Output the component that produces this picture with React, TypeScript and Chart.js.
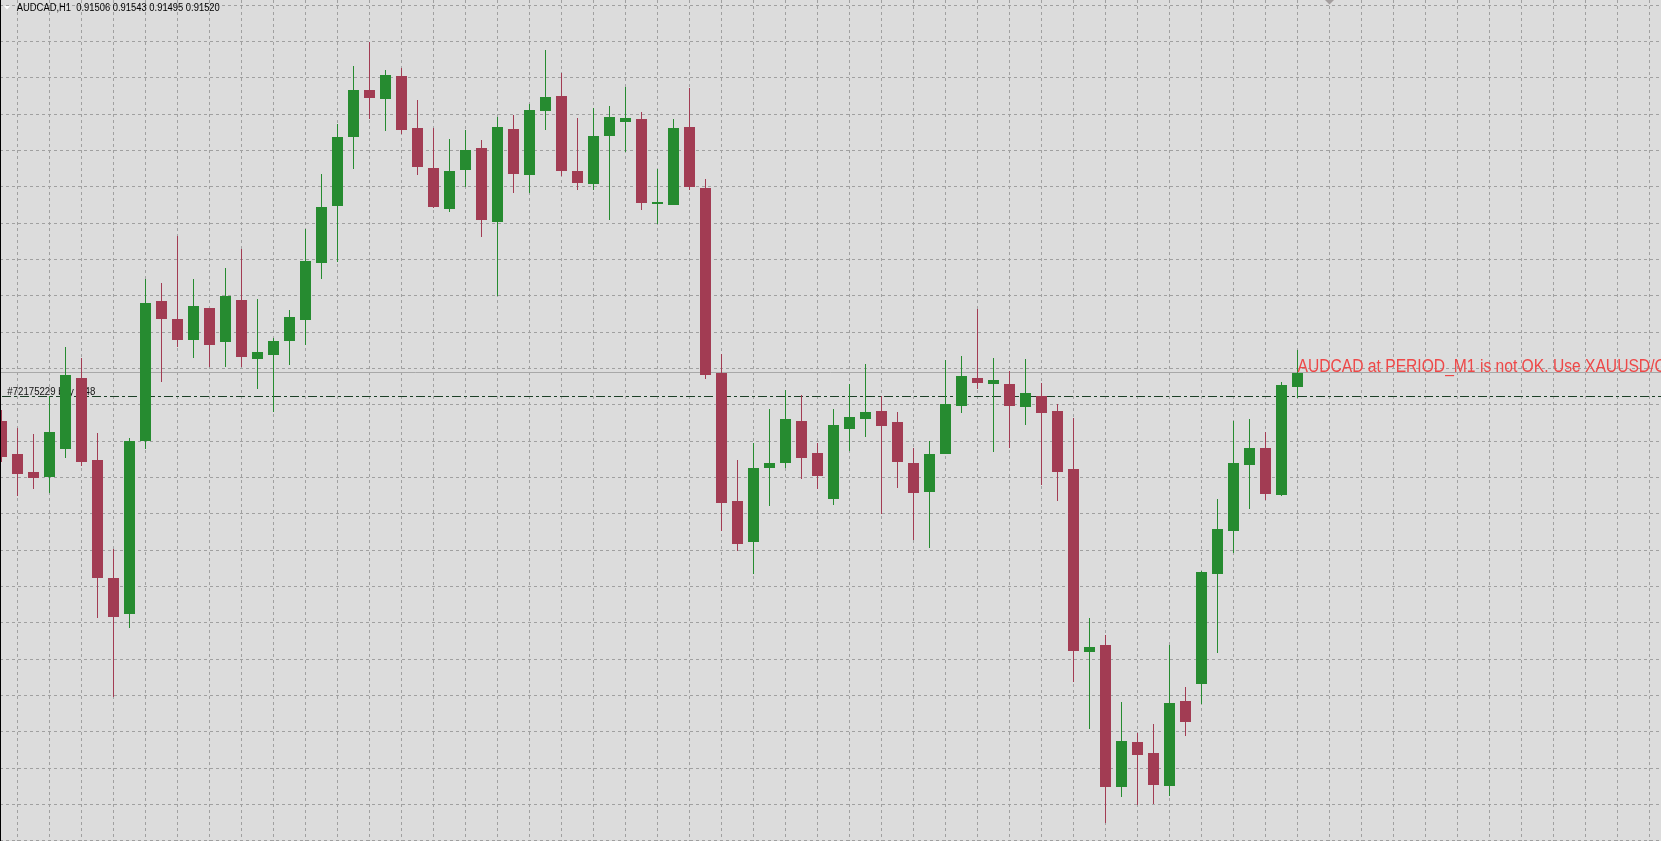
import React, { useEffect, useRef } from "react";
import { Chart, registerables } from "chart.js";

Chart.register(...registerables);

// ---- data (AUDCAD, H1) ----
const symbolLabel = "AUDCAD,H1";
const opens = [
  0.91472, 0.91439, 0.91421, 0.91416, 0.91444, 0.91515, 0.91433, 0.91315, 0.91279, 0.91452,
  0.91592, 0.91574, 0.91553, 0.91585, 0.91551, 0.91593, 0.91534, 0.91538, 0.91552, 0.91573,
  0.9163, 0.91687, 0.91756, 0.91803, 0.91794, 0.91817, 0.91765, 0.91725, 0.91684, 0.91723,
  0.91745, 0.91671, 0.91764, 0.91718, 0.91782, 0.91797, 0.91722, 0.91709, 0.91757, 0.91771,
  0.91774, 0.91689, 0.91688, 0.91766, 0.91705, 0.9152, 0.91392, 0.91351, 0.91425, 0.9143,
  0.91472, 0.9144, 0.91394, 0.91464, 0.91474, 0.91482, 0.91471, 0.9143, 0.91401, 0.91439,
  0.91487, 0.91515, 0.91509, 0.91509, 0.91486, 0.91497, 0.91482, 0.91424, 0.91241, 0.91248,
  0.91106, 0.91151, 0.9114, 0.91107, 0.91192, 0.91209, 0.91319, 0.91362, 0.91428, 0.91445,
  0.91398, 0.91506,
];
const highs = [
  0.91483, 0.91465, 0.91459, 0.91497, 0.91546, 0.91535, 0.9146, 0.91344, 0.91455, 0.91614,
  0.9161, 0.91657, 0.91614, 0.91585, 0.91625, 0.91644, 0.91594, 0.91555, 0.91583, 0.91664,
  0.91719, 0.91769, 0.91827, 0.91851, 0.91823, 0.91825, 0.91793, 0.91765, 0.91754, 0.91763,
  0.91753, 0.91776, 0.91778, 0.91789, 0.91843, 0.9182, 0.91775, 0.91785, 0.91787, 0.91806,
  0.91781, 0.91724, 0.91774, 0.91805, 0.91714, 0.91539, 0.91433, 0.9145, 0.91484, 0.91503,
  0.91498, 0.9145, 0.91484, 0.91509, 0.91529, 0.91497, 0.91481, 0.91445, 0.91452, 0.91533,
  0.91537, 0.91584, 0.91535, 0.91522, 0.91534, 0.9151, 0.91489, 0.91475, 0.91275, 0.91258,
  0.91191, 0.9116, 0.91169, 0.91248, 0.91206, 0.91322, 0.91394, 0.91472, 0.91474, 0.91461,
  0.91511, 0.91543,
];
const lows = [
  0.91431, 0.91397, 0.91404, 0.914, 0.91435, 0.91427, 0.91275, 0.91196, 0.91265, 0.91444,
  0.91511, 0.91546, 0.91535, 0.91526, 0.91526, 0.91526, 0.91504, 0.91481, 0.91528, 0.91548,
  0.91614, 0.91631, 0.91724, 0.91774, 0.91762, 0.91759, 0.91718, 0.91685, 0.91681, 0.91706,
  0.91656, 0.91597, 0.917, 0.917, 0.91763, 0.91717, 0.91703, 0.91703, 0.91673, 0.91741,
  0.91683, 0.91669, 0.91688, 0.91703, 0.91514, 0.91362, 0.91342, 0.91319, 0.91387, 0.91425,
  0.91414, 0.91404, 0.91388, 0.91442, 0.91456, 0.91379, 0.91405, 0.91353, 0.91345, 0.91439,
  0.9148, 0.91504, 0.91441, 0.91445, 0.91468, 0.91408, 0.91392, 0.91211, 0.91164, 0.9107,
  0.91096, 0.91088, 0.91089, 0.91097, 0.91157, 0.91189, 0.9124, 0.9134, 0.91384, 0.91393,
  0.91397, 0.91495,
];
const closes = [
  0.91436, 0.91419, 0.91415, 0.91461, 0.91518, 0.91431, 0.91315, 0.91276, 0.91452, 0.9159,
  0.91574, 0.91553, 0.91587, 0.91548, 0.91597, 0.91536, 0.91541, 0.91552, 0.91576, 0.91632,
  0.91686, 0.91756, 0.91803, 0.91795, 0.91818, 0.91763, 0.91726, 0.91686, 0.91722, 0.91743,
  0.91673, 0.91766, 0.91719, 0.91783, 0.91796, 0.91722, 0.9171, 0.91757, 0.91776, 0.91775,
  0.9169, 0.91691, 0.91765, 0.91706, 0.91518, 0.9139, 0.91349, 0.91425, 0.9143, 0.91474,
  0.91435, 0.91417, 0.91468, 0.91476, 0.91481, 0.91467, 0.91431, 0.914, 0.91439, 0.91489,
  0.91517, 0.9151, 0.91513, 0.91487, 0.915, 0.9148, 0.91421, 0.91242, 0.91246, 0.91106,
  0.91152, 0.91138, 0.91108, 0.9119, 0.91171, 0.91321, 0.91364, 0.9143, 0.91445, 0.91399,
  0.91508, 0.9152,
];
const bidPrice = 0.9152;
const orderPrice = 0.91497;
const orderLabel = "#72175229 buy 0.48";
const warningText = "AUDCAD at PERIOD_M1 is not OK. Use XAUUSD/GOLD at PERIOD_M1";
const warningPrefix = "AUDCAD at PERIOD_M1 is not OK. Use XAUUSD/";

// ---- view / style ----
const W = 1661;
const H = 841;
const Y_MAX = 0.91893;
const Y_MIN = 0.91052;
const BAR_PX = 16;
const X_MIN = -1.5 / BAR_PX;
const X_MAX = X_MIN + W / BAR_PX;
const BULL = "#268b30";
const BEAR = "#a23c53";
const BG = "#dcdcdc";
const GRID = "#a0a0a0";

function fitText(
  ctx: CanvasRenderingContext2D,
  text: string,
  ref: string,
  targetW: number,
  x: number,
  y: number,
  font: string,
  color: string
) {
  ctx.save();
  ctx.font = font;
  ctx.fillStyle = color;
  ctx.textBaseline = "alphabetic";
  ctx.textAlign = "left";
  const m = ctx.measureText(ref).width || 1;
  const sx = targetW / m;
  ctx.translate(x, y);
  ctx.scale(sx, 1);
  ctx.fillText(text, 0, 0);
  ctx.restore();
}

const bgPlugin = {
  id: "bgfill",
  beforeDraw(chart: any) {
    const ctx = chart.ctx;
    ctx.save();
    ctx.fillStyle = BG;
    ctx.fillRect(0, 0, chart.width, chart.height);
    ctx.restore();
  },
};

const overlayPlugin = {
  id: "overlay",
  beforeDatasetsDraw(chart: any) {
    const ctx = chart.ctx;
    const ys = chart.scales.y;
    const bidY = Math.floor(ys.getPixelForValue(bidPrice)) + 0.5;
    const ordY = Math.floor(ys.getPixelForValue(orderPrice)) + 0.5;
    ctx.save();
    ctx.lineWidth = 1;
    ctx.strokeStyle = "#a8a8a8";
    ctx.beginPath();
    ctx.moveTo(0, bidY);
    ctx.lineTo(chart.width, bidY);
    ctx.stroke();
    ctx.strokeStyle = "#1c3f26";
    ctx.setLineDash([9, 3, 3, 3]);
    ctx.beginPath();
    ctx.moveTo(2, ordY);
    ctx.lineTo(chart.width, ordY);
    ctx.stroke();
    ctx.restore();
    fitText(ctx, orderLabel, orderLabel, 88, 7.3, ordY - 2, "11px 'Liberation Sans', Arial, sans-serif", "#111111");
  },
  afterDatasetsDraw(chart: any) {
    const ctx = chart.ctx;
    const ys = chart.scales.y;
    const xs = chart.scales.x;
    const last = opens.length - 1;
    const header =
      symbolLabel +
      "  " +
      [opens[last], highs[last], lows[last], closes[last]].map((v) => v.toFixed(5)).join(" ");
    fitText(ctx, header, header, 203, 16.8, 10.8, "10px 'Liberation Sans', Arial, sans-serif", "#000000");
    const bidY = ys.getPixelForValue(bidPrice);
    fitText(
      ctx,
      warningText,
      warningPrefix,
      357,
      xs.getPixelForValue(last),
      bidY - 1.3,
      "17.5px 'Liberation Sans', Arial, sans-serif",
      "#ee4848"
    );
    ctx.save();
    // white menu triangle (top-left)
    ctx.fillStyle = "#ffffff";
    ctx.beginPath();
    ctx.moveTo(4, 6);
    ctx.lineTo(10, 6);
    ctx.lineTo(7, 9.5);
    ctx.closePath();
    ctx.fill();
    // chart shift marker (top)
    ctx.fillStyle = "#a39e9e";
    ctx.beginPath();
    ctx.moveTo(1325, 0);
    ctx.lineTo(1334, 0);
    ctx.lineTo(1329.5, 4.5);
    ctx.closePath();
    ctx.fill();
    // left border
    ctx.fillStyle = "#000000";
    ctx.fillRect(0, 0, 1, chart.height);
    ctx.restore();
  },
};

export default function App() {
  const ref = useRef<HTMLCanvasElement | null>(null);
  useEffect(() => {
    document.body.style.margin = "0";
    document.body.style.overflow = "hidden";
    const canvas = ref.current;
    if (!canvas) return;
    const idx = opens.map((_, i) => i);
    const colors = idx.map((i) => (closes[i] >= opens[i] ? BULL : BEAR));
    const chart = new Chart(canvas, {
      type: "bar",
      data: {
        datasets: [
          {
            label: "body",
            data: idx.map((i) => ({ x: i, y: [opens[i], closes[i]] })) as any,
            backgroundColor: colors,
            barThickness: 11,
            borderWidth: 0,
            inflateAmount: 0,
            grouped: false,
            order: 1,
          } as any,
          {
            label: "wick",
            data: idx.map((i) => ({ x: i, y: [lows[i], highs[i]] })) as any,
            backgroundColor: colors,
            barThickness: 1,
            borderWidth: 0,
            inflateAmount: 0,
            grouped: false,
            order: 2,
          } as any,
        ],
      },
      options: {
        animation: false,
        responsive: false,
        maintainAspectRatio: false,
        devicePixelRatio: 1,
        layout: { padding: 0 },
        plugins: { legend: { display: false }, tooltip: { enabled: false } },
        events: [],
        scales: {
          x: {
            type: "linear",
            min: X_MIN,
            max: X_MAX,
            offset: false,
            ticks: { display: false },
            grid: { color: GRID, lineWidth: 1, drawTicks: false, drawOnChartArea: true },
            border: { display: false, dash: [3, 3] },
            afterBuildTicks: (s: any) => {
              const t: any[] = [];
              for (let i = 0; i <= 102; i += 2) t.push({ value: i });
              s.ticks = t;
            },
          },
          y: {
            type: "linear",
            min: Y_MIN,
            max: Y_MAX,
            ticks: { display: false },
            grid: { color: GRID, lineWidth: 1, drawTicks: false, drawOnChartArea: true },
            border: { display: false, dash: [3, 3] },
            afterBuildTicks: (s: any) => {
              const t: any[] = [];
              for (let j = 0; j < 24; j++) t.push({ value: Y_MAX - (5.3 + 36.33 * j) * 0.00001 });
              s.ticks = t;
            },
          },
        } as any,
      },
      plugins: [bgPlugin, overlayPlugin],
    });
    return () => chart.destroy();
  }, []);
  return (
    <canvas
      ref={ref}
      width={W}
      height={H}
      style={{ display: "block", width: W + "px", height: H + "px" }}
    />
  );
}
